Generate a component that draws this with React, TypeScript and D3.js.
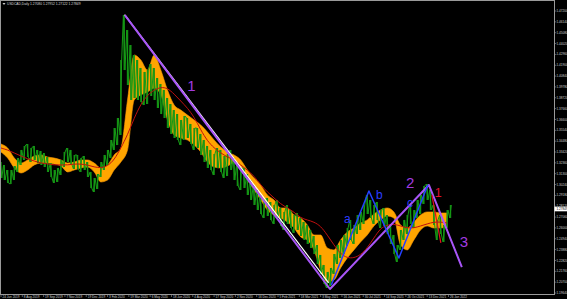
import React from "react";
import * as d3 from "d3";

const W = 567;
const H = 299;

const title = "USDCAD,Daily  1.27080 1.27952 1.27122 1.27849";
const lastPrice = 1.27849;

const priceTicks = [
  1.472, 1.4614, 1.4508, 1.4402, 1.4296, 1.419, 1.4084, 1.3978, 1.3872, 1.3766,
  1.366, 1.3554, 1.3448, 1.3342, 1.3236, 1.313, 1.3024, 1.2918, 1.2812, 1.2706,
  1.26, 1.2494, 1.2388, 1.2282, 1.2176, 1.207, 1.1964,
];

const dateLabels = [
  "24 Jun 2019", "8 Aug 2019", "19 Sep 2019", "7 Nov 2019", "19 Dec 2019", "3 Feb 2020",
  "19 Mar 2020", "6 May 2020", "18 Jun 2020", "4 Aug 2020", "17 Sep 2020", "2 Nov 2020",
  "16 Dec 2020", "5 Feb 2021", "18 Mar 2021", "3 May 2021", "16 Jun 2021", "30 Jul 2021",
  "14 Sep 2021", "26 Oct 2021", "13 Dec 2021", "26 Jan 2022",
];

// weekly highs / lows (one per week)
const weekHigh = [
  1.3244, 1.3215, 1.3166, 1.3166, 1.3205, 1.3283, 1.3362, 1.3401, 1.3420, 1.3381,
  1.3401, 1.3362, 1.3352, 1.3332, 1.3293, 1.3234, 1.3166, 1.3186, 1.3264, 1.3342,
  1.3381, 1.3362, 1.3313, 1.3313, 1.3283, 1.3303, 1.3244, 1.3147, 1.3088, 1.3127,
  1.3244, 1.3313, 1.3362, 1.3459, 1.3576, 1.3674, 1.4241, 1.4680, 1.4534, 1.4387,
  1.4290, 1.4241, 1.4163, 1.4124, 1.4143, 1.4202, 1.4163, 1.4065, 1.4006, 1.3948,
  1.3870, 1.3811, 1.3752, 1.3713, 1.3655, 1.3694, 1.3674, 1.3616, 1.3576, 1.3576,
  1.3518, 1.3459, 1.3401, 1.3362, 1.3322, 1.3381, 1.3362, 1.3303, 1.3322, 1.3362,
  1.3283, 1.3225, 1.3186, 1.3186, 1.3127, 1.3068, 1.3020, 1.2971, 1.2922, 1.2873,
  1.2893, 1.2853, 1.2824, 1.2873, 1.2795, 1.2756, 1.2824, 1.2775, 1.2726, 1.2746,
  1.2697, 1.2658, 1.2629, 1.2580, 1.2521, 1.2433, 1.2336, 1.2238, 1.2170, 1.2209,
  1.2345, 1.2433, 1.2482, 1.2531, 1.2599, 1.2678, 1.2629, 1.2726, 1.2756, 1.2824,
  1.2922, 1.2873, 1.2824, 1.2853, 1.2775, 1.2795, 1.2726, 1.2629, 1.2531, 1.2433,
  1.2580, 1.2678, 1.2726, 1.2824, 1.2775, 1.2873, 1.2922, 1.3010, 1.3029, 1.2971,
  1.2824, 1.2678, 1.2726, 1.2629, 1.2775, 1.2824,
];
const weekLow = [
  1.3088, 1.3068, 1.3039, 1.3029, 1.3068, 1.3147, 1.3215, 1.3264, 1.3293, 1.3244,
  1.3264, 1.3234, 1.3215, 1.3195, 1.3147, 1.3098, 1.3039, 1.3049, 1.3117, 1.3195,
  1.3244, 1.3225, 1.3176, 1.3176, 1.3147, 1.3166, 1.3098, 1.2990, 1.2951, 1.2980,
  1.3098, 1.3166, 1.3215, 1.3283, 1.3362, 1.3410, 1.3508, 1.4143, 1.3997, 1.3850,
  1.3870, 1.3850, 1.3830, 1.3801, 1.3811, 1.3889, 1.3850, 1.3772, 1.3713, 1.3674,
  1.3576, 1.3518, 1.3479, 1.3459, 1.3410, 1.3459, 1.3479, 1.3420, 1.3362, 1.3381,
  1.3313, 1.3244, 1.3186, 1.3166, 1.3117, 1.3186, 1.3147, 1.3088, 1.3107, 1.3166,
  1.3068, 1.3010, 1.2971, 1.2990, 1.2922, 1.2873, 1.2824, 1.2775, 1.2736, 1.2697,
  1.2717, 1.2678, 1.2639, 1.2697, 1.2619, 1.2580, 1.2639, 1.2599, 1.2551, 1.2580,
  1.2521, 1.2482, 1.2443, 1.2404, 1.2345, 1.2248, 1.2150, 1.2052, 1.2013, 1.2033,
  1.2150, 1.2248, 1.2306, 1.2345, 1.2424, 1.2482, 1.2443, 1.2541, 1.2580, 1.2639,
  1.2736, 1.2697, 1.2639, 1.2678, 1.2599, 1.2619, 1.2541, 1.2443, 1.2345, 1.2267,
  1.2385, 1.2482, 1.2541, 1.2639, 1.2599, 1.2697, 1.2736, 1.2834, 1.2873, 1.2775,
  1.2629, 1.2482, 1.2541, 1.2463, 1.2599, 1.2697,
];

// orange band edges, one value every two weeks
const bandUpper = [
  1.3420, 1.3381, 1.3283, 1.3234, 1.3264, 1.3303, 1.3313, 1.3293, 1.3283, 1.3264,
  1.3234, 1.3244, 1.3264, 1.3264, 1.3234, 1.3186, 1.3215, 1.3313, 1.3381, 1.3850,
  1.4290, 1.4241, 1.4143, 1.4290, 1.4143, 1.3948, 1.3801, 1.3752, 1.3703, 1.3655,
  1.3606, 1.3537, 1.3459, 1.3391, 1.3342, 1.3313, 1.3264, 1.3166, 1.3088, 1.3020,
  1.2922, 1.2873, 1.2795, 1.2795, 1.2726, 1.2697, 1.2629, 1.2531, 1.2531, 1.2404,
  1.2385, 1.2482, 1.2560, 1.2599, 1.2648, 1.2678, 1.2736, 1.2775, 1.2795, 1.2756,
  1.2629, 1.2599, 1.2658, 1.2726, 1.2756, 1.2756, 1.2746, 1.2746,
];
const bandLower = [
  1.3342, 1.3283, 1.3186, 1.3137, 1.3166, 1.3215, 1.3234, 1.3234, 1.3225, 1.3205,
  1.3147, 1.3166, 1.3186, 1.3195, 1.3147, 1.3049, 1.3068, 1.3166, 1.3244, 1.3362,
  1.3850, 1.3899, 1.3928, 1.3967, 1.3899, 1.3655, 1.3508, 1.3479, 1.3459, 1.3410,
  1.3342, 1.3244, 1.3195, 1.3186, 1.3205, 1.3234, 1.3186, 1.3068, 1.2971, 1.2873,
  1.2775, 1.2726, 1.2697, 1.2658, 1.2599, 1.2512, 1.2482, 1.2385, 1.2189, 1.2072,
  1.2091, 1.2209, 1.2306, 1.2385, 1.2463, 1.2531, 1.2619, 1.2678, 1.2717, 1.2697,
  1.2433, 1.2385, 1.2482, 1.2580, 1.2619, 1.2599, 1.2599, 1.2609,
];

// dark red moving average, one value every two weeks
const maValues = [
  1.3381, 1.3362, 1.3332, 1.3303, 1.3274, 1.3254, 1.3234, 1.3225, 1.3215, 1.3215,
  1.3215, 1.3225, 1.3225, 1.3215, 1.3195, 1.3186, 1.3205, 1.3264, 1.3381, 1.3508,
  1.3674, 1.3811, 1.3899, 1.3948, 1.3977, 1.3967, 1.3909, 1.3840, 1.3772, 1.3684,
  1.3557, 1.3449, 1.3381, 1.3332, 1.3293, 1.3264, 1.3215, 1.3166, 1.3107, 1.3020,
  1.2951, 1.2893, 1.2834, 1.2795, 1.2756, 1.2697, 1.2678, 1.2658, 1.2619, 1.2531,
  1.2433, 1.2345, 1.2306, 1.2306, 1.2336, 1.2404, 1.2501, 1.2599, 1.2629, 1.2639,
  1.2619, 1.2599, 1.2599, 1.2619, 1.2639, 1.2658, 1.2658, 1.2648,
];

// wave annotations (week index, price)
const purpleWave = [
  { w: 37.2, p: 1.468 },
  { w: 98.8, p: 1.2003 },
  { w: 128.5, p: 1.302 },
  { w: 138.4, p: 1.2218 },
];
const whiteLine = [
  { w: 37.1, p: 1.4685 },
  { w: 98.4, p: 1.2062 },
];
const blueWave = [
  { w: 99.2, p: 1.2043 },
  { w: 110.5, p: 1.2961 },
  { w: 119.5, p: 1.2306 },
  { w: 128.2, p: 1.302 },
];
const redWave = [
  { w: 129.4, p: 1.2922 },
  { w: 132.1, p: 1.2453 },
];
const waveLabels = [
  { t: "1", w: 55.9, p: 1.3938, c: "#a23be0", s: 15 },
  { t: "2", w: 121.6, p: 1.299, c: "#a23be0", s: 15 },
  { t: "3", w: 137.8, p: 1.2414, c: "#a23be0", s: 15 },
  { t: "1", w: 130.3, p: 1.2902, c: "#e01030", s: 12.5 },
  { t: "a", w: 103, p: 1.2648, c: "#2a3cff", s: 12 },
  { t: "b", w: 112.6, p: 1.2883, c: "#2a3cff", s: 12 },
  { t: "c", w: 121.9, p: 1.2805, c: "#2a3cff", s: 12 },
];

export default function App() {
  const x = d3.scaleLinear().domain([0, 135]).range([1, 450.5]);
  const y = d3.scaleLinear().domain([1.472, 1.1964]).range([11, 293]);

  const right = 554.5;
  const bottom = 294.5;

  // green price zigzag
  const pts: [number, number][] = [];
  weekHigh.forEach((h, i) => {
    const l = weekLow[i];
    const mid = (h + l) / 2;
    const nextMid = i < weekHigh.length - 1 ? (weekHigh[i + 1] + weekLow[i + 1]) / 2 : mid;
    const xi = x(i);
    if (nextMid < mid) {
      pts.push([xi - 0.8, y(h)], [xi + 0.8, y(l)]);
    } else {
      pts.push([xi - 0.8, y(l)], [xi + 0.8, y(h)]);
    }
  });
  const priceLine = d3.line()(pts) || "";

  const band = d3
    .area<number>()
    .x((_, k) => x(2 * k))
    .y0((_, k) => y(bandLower[k]))
    .y1((v) => y(v))
    .curve(d3.curveMonotoneX)(bandUpper) || "";

  const ma = d3
    .line<number>()
    .x((_, k) => x(2 * k))
    .y((v) => y(v))
    .curve(d3.curveBasis)(maValues) || "";

  const wl = d3
    .line<{ w: number; p: number }>()
    .x((d) => x(d.w))
    .y((d) => y(d.p));

  const font = "'Liberation Sans', Arial, sans-serif";

  return (
    <svg
      width={W}
      height={H}
      style={{ position: "absolute", left: 0, top: 0, display: "block", background: "#000" }}
    >
      <rect x={0} y={0} width={W} height={H} fill="#000" />
      <defs>
        <clipPath id="plot">
          <rect x={1} y={1} width={right - 1} height={bottom - 1} />
        </clipPath>
      </defs>

      <g clipPath="url(#plot)">
        <path d={band} fill="#ffa500" stroke="#ff9a00" strokeWidth={0.6} />
        {weekHigh.map((h, i) => (
          <line
            key={i}
            x1={x(i)}
            x2={x(i)}
            y1={y(h)}
            y2={y(weekLow[i])}
            stroke="#138f13"
            strokeWidth={1.4}
          />
        ))}
        <path d={priceLine} fill="none" stroke="#169a16" strokeWidth={1} strokeLinejoin="round" />
        <path d={ma} fill="none" stroke="#c01010" strokeWidth={1} />
        <path d={wl(whiteLine) || ""} fill="none" stroke="#ffffff" strokeWidth={1.2} />
        <path d={wl(purpleWave) || ""} fill="none" stroke="#a855f7" strokeWidth={2} strokeLinejoin="round" />
        <path d={wl(blueWave) || ""} fill="none" stroke="#2440ff" strokeWidth={1.5} strokeLinejoin="round" />
        <path d={wl(redWave) || ""} fill="none" stroke="#e01020" strokeWidth={1.2} />
        {waveLabels.map((l, i) => (
          <text
            key={i}
            x={x(l.w)}
            y={y(l.p)}
            fill={l.c}
            fontSize={l.s}
            fontFamily={font}
          >
            {l.t}
          </text>
        ))}
      </g>

      {/* frame */}
      <rect x={0.5} y={0.5} width={right - 0.5} height={bottom - 0.5} fill="none" stroke="#9a9a9a" strokeWidth={1} />

      {/* title */}
      <path d="M2.5,3 L5.5,3 L4,5 Z" fill="#c8c8c8" />
      <text x={7} y={5} fill="#d8d8d8" fontSize={3.3} fontFamily={font}>
        {title}
      </text>

      {/* price axis */}
      {priceTicks.map((p, i) => (
        <g key={i}>
          <line x1={right} x2={right + 1.8} y1={y(p)} y2={y(p)} stroke="#9a9a9a" strokeWidth={0.6} />
          <text x={556.5} y={y(p) + 1.1} fill="#d0d0d0" fontSize={3.1} fontFamily={font}>
            {p.toFixed(5)}
          </text>
        </g>
      ))}
      <rect x={right} y={y(lastPrice) - 2.3} width={W - right} height={4.6} fill="#ffffff" />
      <text x={556.5} y={y(lastPrice) + 1.1} fill="#000" fontSize={3.1} fontFamily={font}>
        {lastPrice.toFixed(5)}
      </text>

      {/* date axis */}
      {dateLabels.map((d, j) => {
        const xx = x(j * 6.4);
        return (
          <g key={j}>
            <line x1={xx} x2={xx} y1={bottom} y2={bottom + 2.5} stroke="#9a9a9a" strokeWidth={0.6} />
            <text x={xx + 1.5} y={298.4} fill="#d0d0d0" fontSize={3.1} fontFamily={font}>
              {d}
            </text>
          </g>
        );
      })}
    </svg>
  );
}
